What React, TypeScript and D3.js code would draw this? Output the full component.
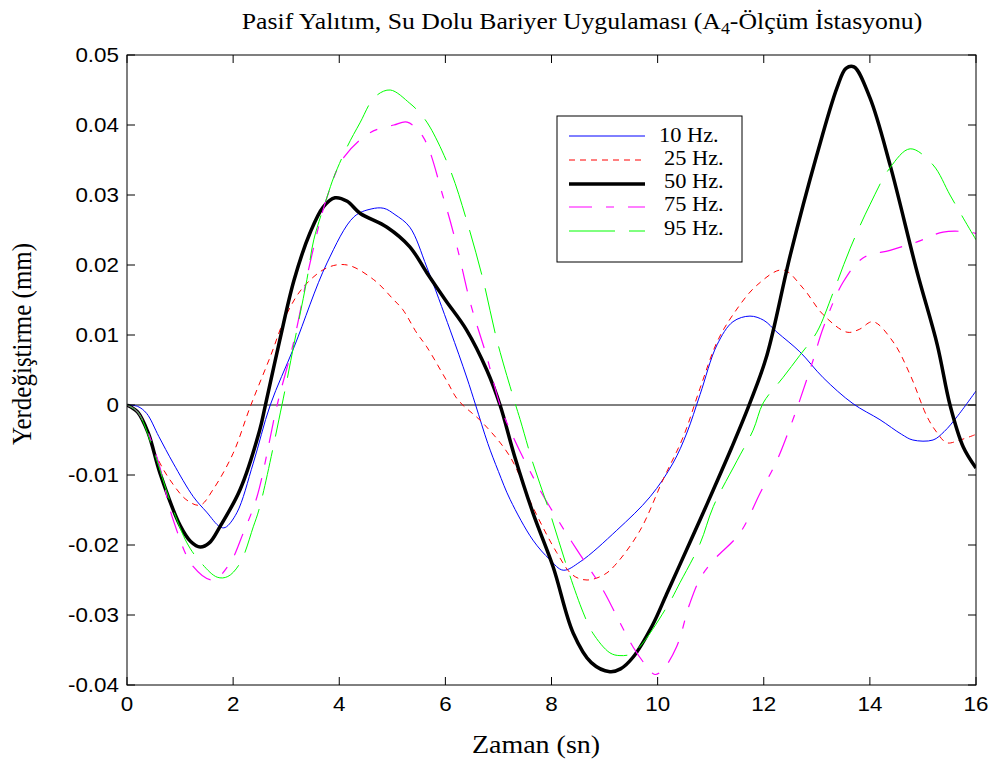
import React from "react";
import * as d3 from "d3";

const xTicks = [0, 2, 4, 6, 8, 10, 12, 14, 16];
const yTicks = [0.05, 0.04, 0.03, 0.02, 0.01, 0, -0.01, -0.02, -0.03, -0.04];
const yTickLabels = ["0.05", "0.04", "0.03", "0.02", "0.01", "0", "-0.01", "-0.02", "-0.03", "-0.04"];

const seriesNames = ["10 Hz.", "25 Hz.", "50 Hz.", "75 Hz.", "95 Hz."];

const hz10: [number, number][] = [
  [0, 0], [0.2, -0.0002], [0.37, -0.0012], [0.6, -0.0045], [0.87, -0.0083], [1.25, -0.0131], [1.5, -0.0153],
  [1.75, -0.0174], [1.85, -0.0175], [2.07, -0.0154], [2.38, -0.0083], [2.7, 0], [3.15, 0.0083], [3.77, 0.0203],
  [4.28, 0.0269], [4.6, 0.028], [4.84, 0.0281], [5.05, 0.0272], [5.33, 0.0254], [5.65, 0.0197], [6.09, 0.0107],
  [6.4, 0.004], [6.57, 0], [6.8, -0.0055], [7.0, -0.0095], [7.22, -0.0135], [7.65, -0.0193], [7.97, -0.0221],
  [8.22, -0.0236], [8.54, -0.0224], [9.23, -0.0179], [9.86, -0.0131], [10.29, -0.0083], [10.55, -0.004],
  [10.8, 0.0015], [11.12, 0.0086], [11.42, 0.0119], [11.74, 0.0127], [12.0, 0.0121], [12.25, 0.0104],
  [12.68, 0.0076], [13.12, 0.0039], [13.68, 0.0002], [14.19, -0.0021], [14.6, -0.0042], [14.81, -0.005],
  [15.19, -0.005], [15.4, -0.0038], [15.64, -0.0017], [16, 0.002],
];

const hz25: [number, number][] = [
  [0, 0], [0.2, -0.001], [0.56, -0.0074], [0.81, -0.0107], [1.13, -0.0136], [1.38, -0.0143], [1.62, -0.0121],
  [2.0, -0.0069], [2.32, -0.0003], [2.7, 0.0069], [3.01, 0.013], [3.33, 0.0169], [3.77, 0.0196], [4.15, 0.02],
  [4.65, 0.0179], [5.03, 0.015], [5.2, 0.0136], [5.46, 0.0103], [5.65, 0.0083], [6.03, 0.0034], [6.24, 0.0007],
  [6.71, -0.0026], [7.22, -0.0074], [7.65, -0.0146], [8.1, -0.0211], [8.4, -0.0243], [8.67, -0.025], [9.0, -0.0242],
  [9.23, -0.0226], [9.67, -0.0179], [10.1, -0.0107], [10.48, -0.0046], [10.8, 0.0024], [11.12, 0.009],
  [11.42, 0.0129], [11.87, 0.0171], [12.36, 0.0193], [12.74, 0.0167], [13.12, 0.0129], [13.57, 0.0104],
  [13.8, 0.0108], [14.06, 0.0119], [14.44, 0.009], [14.76, 0.0043], [15.08, -0.0017], [15.27, -0.004],
  [15.45, -0.0054], [15.7, -0.005], [16, -0.0042],
];

const hz50: [number, number][] = [
  [0, 0], [0.2, -0.001], [0.4, -0.004], [0.62, -0.0097], [1.0, -0.0172], [1.2, -0.0195], [1.38, -0.0203],
  [1.55, -0.0197], [1.75, -0.0174], [2.13, -0.0121], [2.5, -0.0036], [2.6, -0.0003], [2.88, 0.0093],
  [3.15, 0.0179], [3.45, 0.0246], [3.7, 0.0283], [3.92, 0.0296], [4.15, 0.0291], [4.39, 0.0274], [4.9, 0.0254],
  [5.33, 0.0226], [5.65, 0.0189], [6.0, 0.015], [6.4, 0.0107], [6.78, 0.005], [7.03, 0], [7.3, -0.0072],
  [7.65, -0.0154], [8.03, -0.0231], [8.41, -0.0326], [8.75, -0.0368], [9.1, -0.0381], [9.3, -0.0377],
  [9.54, -0.036], [9.9, -0.0315], [10.17, -0.027], [10.42, -0.0228], [10.8, -0.0164], [11.05, -0.0121],
  [11.4, -0.006], [11.74, 0.0003], [12.06, 0.0071], [12.5, 0.0214], [13.0, 0.0357], [13.38, 0.0453],
  [13.55, 0.0481], [13.7, 0.0483], [14.0, 0.0439], [14.38, 0.0343], [14.89, 0.019], [15.27, 0.0086],
  [15.51, 0], [15.76, -0.006], [16, -0.009],
];

const hz75: [number, number][] = [
  [0, 0], [0.2, -0.001], [0.56, -0.0074], [0.87, -0.0164], [1.25, -0.0231], [1.62, -0.025], [1.94, -0.0226],
  [2.19, -0.0183], [2.45, -0.0131], [2.83, 0], [3.15, 0.0093], [3.45, 0.0203], [3.77, 0.0297], [4.09, 0.0354],
  [4.58, 0.0389], [5.03, 0.04], [5.28, 0.0404], [5.58, 0.0383], [5.96, 0.0297], [6.22, 0.0226], [6.47, 0.0146],
  [6.78, 0.0069], [7.03, 0], [7.28, -0.0046], [7.78, -0.0121], [8.16, -0.0169], [8.48, -0.0207], [8.97, -0.0264],
  [9.29, -0.0311], [9.54, -0.0346], [9.8, -0.0374], [9.95, -0.0385], [10.1, -0.0378], [10.36, -0.0345],
  [10.6, -0.0285], [10.8, -0.0248], [11.05, -0.0222], [11.55, -0.0183], [11.93, -0.0126], [12.25, -0.0079],
  [12.5, -0.0031], [12.68, 0.0007], [12.93, 0.0064], [13.12, 0.011], [13.5, 0.0176], [13.87, 0.021],
  [14.38, 0.0221], [14.89, 0.0233], [15.38, 0.0247], [15.89, 0.0247], [16, 0.0245],
];

const hz95: [number, number][] = [
  [0, 0], [0.2, -0.001], [0.5, -0.0065], [0.8, -0.0135], [1.13, -0.0197], [1.38, -0.0224], [1.7, -0.0246],
  [1.9, -0.0245], [2.13, -0.0226], [2.38, -0.0174], [2.5, -0.0146], [2.92, 0], [3.15, 0.0088], [3.39, 0.0179],
  [3.52, 0.0236], [3.77, 0.0297], [3.9, 0.0326], [4.15, 0.0369], [4.39, 0.0403], [4.67, 0.044], [4.96, 0.045],
  [5.33, 0.0431], [5.52, 0.0417], [5.71, 0.0397], [6.09, 0.0336], [6.4, 0.0264], [6.71, 0.0179], [6.97, 0.0093],
  [7.28, 0.0011], [7.41, -0.0021], [7.65, -0.0083], [7.97, -0.0154], [8.29, -0.0231], [8.6, -0.0297],
  [8.78, -0.0326], [9.1, -0.0354], [9.29, -0.0358], [9.54, -0.0354], [10.17, -0.0289], [10.42, -0.0254],
  [10.8, -0.0198], [11.05, -0.0145], [11.5, -0.0079], [11.8, -0.0036], [11.99, 0.0003], [12.36, 0.0039],
  [12.68, 0.0071], [13.0, 0.0104], [13.31, 0.0161], [13.63, 0.0224], [14.0, 0.0286], [14.38, 0.0339],
  [14.76, 0.0366], [15.19, 0.0343], [15.51, 0.03], [15.76, 0.0267], [16, 0.0236],
];

const seriesData = [hz10, hz25, hz50, hz75, hz95];
const seriesColors = ["#0000ff", "#ff0000", "#000000", "#ff00ff", "#00ff00"];
const seriesWidths = [1, 1, 3.5, 1.2, 1];
const seriesDash = ["", "6,5", "", "23,14,8,14", "46,14"];

const W = 991;
const H = 763;
const L = 127, R = 976, T = 55, B = 685;
const SX = 1.12;

export default function App() {
  const x = d3.scaleLinear().domain([0, 16]).range([L, R]);
  const y = d3.scaleLinear().domain([-0.04, 0.05]).range([B, T]);
  const line = d3
    .line<[number, number]>()
    .x((d) => x(d[0]))
    .y((d) => y(d[1]))
    .curve(d3.curveCatmullRom.alpha(0.5));

  const tickLen = 8;
  const serif = "'Liberation Serif', 'Times New Roman', serif";
  const sans = "'Liberation Sans', Arial, sans-serif";

  const legendRowsY = [136, 160, 184, 207, 231];
  const legendTextY = [142, 165, 188, 211, 235];

  return (
    <svg
      width={W}
      height={H}
      style={{ position: "absolute", left: 0, top: 0, background: "#fff" }}
    >
      <rect x={0} y={0} width={W} height={H} fill="#fff" />
      <defs>
        <clipPath id="plotclip">
          <rect x={L} y={T} width={R - L} height={B - T} />
        </clipPath>
      </defs>

      <line x1={L} x2={R} y1={y(0)} y2={y(0)} stroke="#000" strokeWidth={1} />

      <g clipPath="url(#plotclip)">
        {seriesData.map((d, i) => (
          <path
            key={i}
            d={line(d) || ""}
            fill="none"
            stroke={seriesColors[i]}
            strokeWidth={seriesWidths[i]}
            strokeDasharray={seriesDash[i] || undefined}
            strokeLinejoin="round"
          />
        ))}
      </g>

      <rect x={L} y={T} width={R - L} height={B - T} fill="none" stroke="#000" strokeWidth={1} />

      {xTicks.map((t) => (
        <g key={"x" + t}>
          <line x1={x(t)} x2={x(t)} y1={B} y2={B - tickLen} stroke="#000" />
          <line x1={x(t)} x2={x(t)} y1={T} y2={T + tickLen} stroke="#000" />
          <text
            transform={`translate(${x(t)},${B + 26}) scale(${SX},1)`}
            textAnchor="middle"
            fontFamily={sans}
            fontSize={20}
            fill="#000"
          >
            {String(t)}
          </text>
        </g>
      ))}

      {yTicks.map((t, i) => (
        <g key={"y" + t}>
          <line x1={L} x2={L + tickLen} y1={y(t)} y2={y(t)} stroke="#000" />
          <line x1={R} x2={R - tickLen} y1={y(t)} y2={y(t)} stroke="#000" />
          <text
            transform={`translate(${L - 8},${y(t) + 7}) scale(${SX},1)`}
            textAnchor="end"
            fontFamily={sans}
            fontSize={20}
            fill="#000"
          >
            {yTickLabels[i]}
          </text>
        </g>
      ))}

      <rect x={557} y={116} width={185} height={146} fill="#fff" stroke="#000" strokeWidth={1} />
      {seriesNames.map((n, i) => (
        <g key={n}>
          <line
            x1={569}
            x2={645}
            y1={legendRowsY[i]}
            y2={legendRowsY[i]}
            stroke={seriesColors[i]}
            strokeWidth={seriesWidths[i]}
            strokeDasharray={seriesDash[i] || undefined}
          />
          <text
            transform={`translate(${i === 0 ? 659 : 664},${legendTextY[i]}) scale(${SX},1)`}
            fontFamily={serif}
            fontSize={20}
            fill="#000"
          >
            {n}
          </text>
        </g>
      ))}

      <text
        transform={`translate(582,29) scale(${SX},1)`}
        textAnchor="middle"
        fontFamily={serif}
        fontSize={23}
        fill="#000"
      >
        Pasif Yalıtım, Su Dolu Bariyer Uygulaması (A
        <tspan fontSize={16} dy={5}>4</tspan>
        <tspan dy={-5}>-Ölçüm İstasyonu)</tspan>
      </text>

      <text
        transform={`translate(536,753) scale(${SX},1)`}
        textAnchor="middle"
        fontFamily={serif}
        fontSize={25}
        fill="#000"
      >
        Zaman (sn)
      </text>

      <text
        transform={`translate(31,344) rotate(-90) scale(1,${SX})`}
        textAnchor="middle"
        fontFamily={serif}
        fontSize={25}
        fill="#000"
      >
        Yerdeğiştirme (mm)
      </text>
    </svg>
  );
}
